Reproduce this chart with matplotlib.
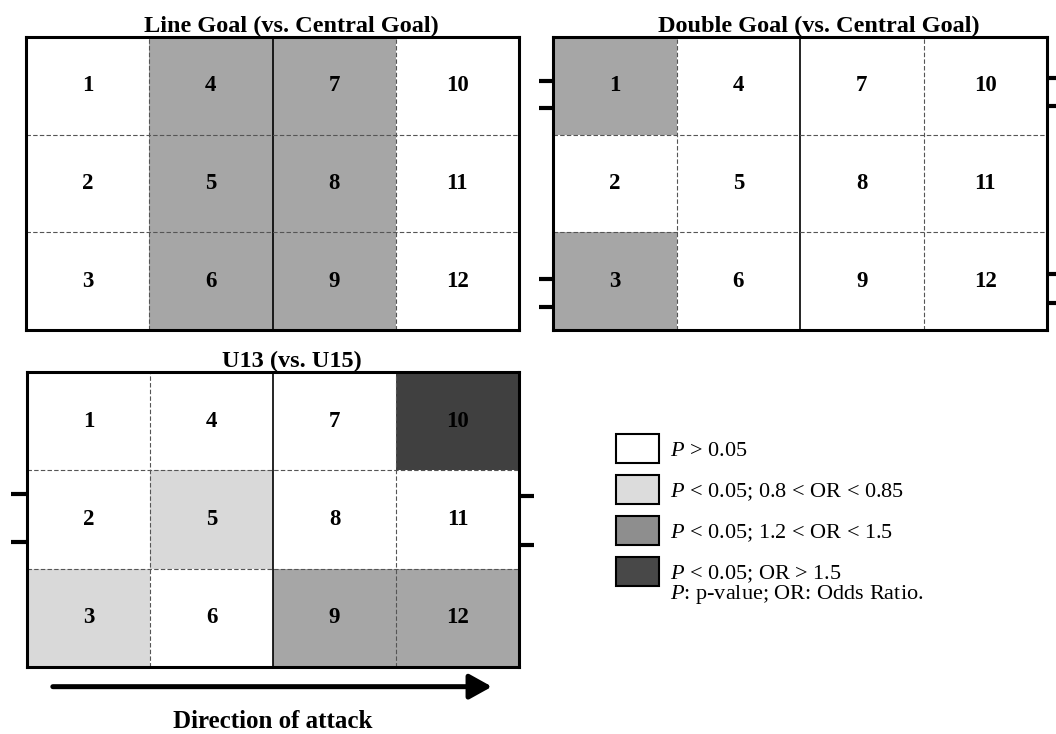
import matplotlib
matplotlib.use("Agg")
import matplotlib.pyplot as plt
import numpy as np
from matplotlib.colors import ListedColormap, BoundaryNorm
from matplotlib.patches import Patch

plt.rcParams['font.family'] = ['Liberation Serif', 'DejaVu Serif']
plt.rcParams['mathtext.fontset'] = 'custom'
plt.rcParams['mathtext.it'] = 'Liberation Serif:italic'
plt.rcParams['mathtext.rm'] = 'Liberation Serif'

# Zone numbering on the pitch: rows top to bottom, columns in the direction of attack
zones = [[1, 4, 7, 10],
         [2, 5, 8, 11],
         [3, 6, 9, 12]]

# Significance category per zone: 0 = P > 0.05, 1 = 0.8<OR<0.85, 2 = 1.2<OR<1.5, 3 = OR>1.5
line_goal = [[0, 2, 2, 0],
             [0, 2, 2, 0],
             [0, 2, 2, 0]]
double_goal = [[2, 0, 0, 0],
               [0, 0, 0, 0],
               [2, 0, 0, 0]]
u13 = [[0, 0, 0, 3],
       [0, 1, 0, 0],
       [1, 0, 2, 2]]

titles = ["Line Goal (vs. Central Goal)", "Double Goal (vs. Central Goal)", "U13 (vs. U15)"]

# Goal posts (row units from the top) on the left and right end lines
double_left_posts = [0.45, 0.73, 2.48, 2.76]
double_right_posts = [0.42, 0.71, 2.43, 2.72]
u13_left_posts = [1.24, 1.73]
u13_right_posts = [1.26, 1.76]

cell_colors = ['#ffffff', '#d9d9d9', '#a6a6a6', '#404040']
legend_colors = ['#ffffff', '#dcdcdc', '#8e8e8e', '#484848']
legend_labels = [r'$P$ > 0.05',
                 r'$P$ < 0.05; 0.8 < OR < 0.85',
                 r'$P$ < 0.05; 1.2 < OR < 1.5',
                 r'$P$ < 0.05; OR > 1.5']
legend_note = r'$P$: p-value; OR: Odds Ratio.'

W, H = 1056, 734
fig = plt.figure(figsize=(W / 100, H / 100), dpi=100)
fig.patch.set_facecolor('white')


def px_axes(left, top, right, bottom):
    return fig.add_axes([left / W, 1 - bottom / H, (right - left) / W, (bottom - top) / H])


cmap = ListedColormap(cell_colors)
norm = BoundaryNorm([-0.5, 0.5, 1.5, 2.5, 3.5], cmap.N)


def draw_pitch(ax, cats, title, title_pad):
    cats = np.array(cats)
    ax.pcolormesh(np.arange(5), np.arange(4), cats, cmap=cmap, norm=norm)
    ax.set_xlim(0, 4)
    ax.set_ylim(3, 0)
    for x in (1, 3):
        ax.axvline(x, color='#555555', lw=0.8, ls=(0, (4, 2)))
    ax.axvline(2, color='black', lw=1.2)
    for y in (1, 2):
        ax.axhline(y, color='#555555', lw=0.8, ls=(0, (4, 2)))
    for r, row in enumerate(zones):
        for c, z in enumerate(row):
            ax.text(c + 0.5, r + 0.5, str(z), ha='center', va='center',
                    fontsize=16.5, fontweight='bold', color='black')
    ax.set_xticks([])
    ax.set_yticks([])
    for s in ax.spines.values():
        s.set_linewidth(2.2)
        s.set_color('black')
    ax.set_title(title, fontsize=17.5, fontweight='bold', x=0.538, pad=title_pad)


def draw_posts(ax, ys, side, length):
    x0 = 0 if side == 'left' else 4
    x1 = x0 - length if side == 'left' else x0 + length
    for y in ys:
        ax.plot([x0, x1], [y, y], color='black', lw=3, clip_on=False,
                solid_capstyle='butt')


ax1 = px_axes(26, 37, 519, 330)
draw_pitch(ax1, line_goal, titles[0], 1.8)

ax2 = px_axes(553, 37, 1047, 330)
draw_pitch(ax2, double_goal, titles[1], 1.8)
draw_posts(ax2, double_left_posts, 'left', 0.11)
draw_posts(ax2, double_right_posts, 'right', 0.11)

ax3 = px_axes(27, 372, 519, 667)
draw_pitch(ax3, u13, titles[2], 3)
draw_posts(ax3, u13_left_posts, 'left', 0.13)
draw_posts(ax3, u13_right_posts, 'right', 0.12)

# Direction of attack arrow below the U13 pitch
ax3.annotate('', xy=(3.78, 3.2), xytext=(0.21, 3.2), xycoords='data',
             annotation_clip=False,
             arrowprops=dict(arrowstyle='-|>,head_length=1.35,head_width=0.75',
                             lw=3.6, color='black', shrinkA=0, shrinkB=0))
ax3.text(2.0, 3.55, 'Direction of attack', ha='center', va='center',
         fontsize=18, fontweight='bold', clip_on=False)

handles = [Patch(facecolor=c, edgecolor='black', lw=1.5) for c in legend_colors]
fig.legend(handles, legend_labels, loc='upper left',
           bbox_to_anchor=(616 / W, 1 - 434 / H), frameon=False,
           borderpad=0, borderaxespad=0, handlelength=1.94, handleheight=1.63,
           handletextpad=0.5, labelspacing=0.54, fontsize=16)
fig.text(670 / W, 1 - 595 / H, legend_note, fontsize=16, ha='left', va='center')

fig.savefig('out.png', dpi=100, facecolor='white')
